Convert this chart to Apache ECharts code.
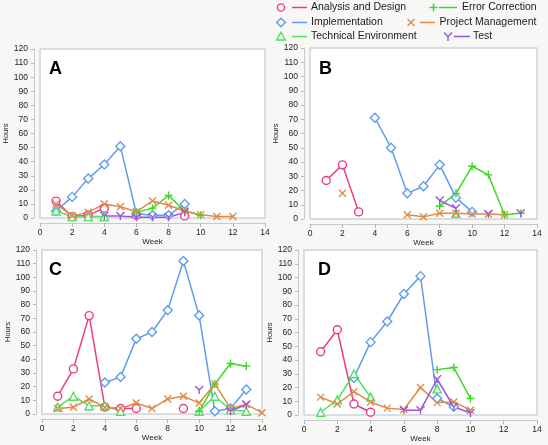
<!DOCTYPE html>
<html><head><meta charset="utf-8">
<script src="https://cdn.jsdelivr.net/npm/echarts@6/dist/echarts.min.js"></script>
<style>html,body{margin:0;padding:0;background:#f7f8f6}#c{width:548px;height:445px}</style>
</head><body><div id="c"></div><script>
const weeks = [1,2,3,4,5,6,7,8,9,10,11,12,13,14];
const seriesNames = ['Analysis and Design','Implementation','Technical Environment','Error Correction','Project Management','Test'];
const panelLetters = ['A','B','C','D'];
const xTickValues = [0,2,4,6,8,10,12,14];
const yTickValues = [0,10,20,30,40,50,60,70,80,90,100,110,120];

// Panel A (hours per week 1..14)
const A_analysis = [12,1,2,7,null,2,null,null,1.5,null,null,null,null,null];
const A_impl     = [5,15,28,38,51,3,2,2,10,null,null,null,null,null];
const A_tech     = [5,1,1,1,null,null,null,null,null,null,null,null,null,null];
const A_error    = [null,null,null,null,null,4,7,16,5,2,null,null,null,null];
const A_pm       = [10,1.5,4,10,8,4.5,12,9,5,2.4,1,1,null,null];
const A_test     = [null,null,null,1.5,1.5,0.5,0.5,0.5,4,null,null,null,null,null];
// Panel B
const B_analysis = [27,38,5,null,null,null,null,null,null,null,null,null,null,null];
const B_impl     = [null,null,null,71,50,18,23,38,15,5,null,null,null,null];
const B_tech     = [null,null,null,null,null,null,null,null,4,null,null,null,null,null];
const B_error    = [null,null,null,null,null,null,null,9,18,37,31,3,4,null];
const B_pm       = [null,18,null,null,null,3,1.5,4,4,3.5,3.5,3,null,null];
const B_test     = [null,null,null,null,null,null,null,13,7.5,null,3.5,null,4,null];
// Panel C
const C_analysis = [13,33,72,5,4,4,null,null,4,null,null,null,null,null];
const C_impl     = [null,null,null,23,27,55,60,76,112,72,2,4,18,null];
const C_tech     = [5,13,6,6,2,null,null,null,null,2,13,3,2,null];
const C_error    = [null,null,null,null,null,null,null,null,null,2,22,37,35,null];
const C_pm       = [4,5,11,5,4,8,4,11,13,8,22,4,7,1];
const C_test     = [null,null,null,null,null,null,null,null,null,17.5,null,2,7,null];
// Panel D
const D_analysis = [46,62,8,2,null,null,null,null,null,null,null,null,null,null];
const D_impl     = [null,null,27,53,68,88,101,12,6,null,null,null,null,null];
const D_tech     = [2,11,30,13,null,null,null,19,null,null,null,null,null,null];
const D_error    = [null,null,null,null,null,null,null,33,34.5,12,null,null,null,null];
const D_pm       = [13,8,17,9.5,5,4,20,9,9.5,3.5,null,null,null,null];
const D_test     = [null,null,null,null,null,3.5,3.5,26,6,1.5,null,null,null,null];

const panels = [
  [A_analysis,A_impl,A_tech,A_error,A_pm,A_test],
  [B_analysis,B_impl,B_tech,B_error,B_pm,B_test],
  [C_analysis,C_impl,C_tech,C_error,C_pm,C_test],
  [D_analysis,D_impl,D_tech,D_error,D_pm,D_test]
];

const colors = ['#ec3b84','#5f9cf0','#4fe060','#3ed824','#e08a45','#9a55e0'];
const symbols = [
  'path://M0,5A5,5,0,1,1,10,5A5,5,0,1,1,0,5Z',
  'path://M5,0L10,5L5,10L0,5Z',
  'path://M5,0L10,9L0,9Z',
  'path://M5,0L5,10M0,5L10,5',
  'path://M0,0L10,10M10,0L0,10',
  'path://M0,0L5,5M10,0L5,5M5,5L5,10'];
const hollow = [true,true,true,false,false,false];
const symSizes = [8,9,8,8,7,8];

const grids = [
  {left:40, top:49, width:225, height:169},
  {left:310, top:48, width:227, height:171},
  {left:42, top:250, width:220, height:164},
  {left:304, top:250, width:233, height:165}
];
const FONT = 'Liberation Sans, Arial, sans-serif';

const option = {
  animation:false,
  backgroundColor:'#f7f8f6',
  grid: grids.map(g => Object.assign({show:true, backgroundColor:'#ffffff', borderColor:'#cfd4d8', borderWidth:1.5}, g)),
  xAxis: grids.map((g,i) => ({
    gridIndex:i, type:'value', min:0, max:14, interval:2, offset:5,
    name:'Week', nameLocation:'middle', nameGap:15,
    nameTextStyle:{fontSize:8, color:'#222', fontFamily:FONT},
    axisLine:{show:true, onZero:false, lineStyle:{color:'#c6cacf', width:1}},
    axisTick:{show:true, length:4, lineStyle:{color:'#b5b9bd'}},
    splitLine:{show:false},
    axisLabel:{fontSize:8.5, color:'#222', margin:5, fontFamily:FONT}
  })),
  yAxis: grids.map((g,i) => ({
    gridIndex:i, type:'value', min:0, max:120, interval:10, offset:6,
    name:'Hours', nameLocation:'middle', nameGap:24,
    nameTextStyle:{fontSize:7.5, color:'#222', fontFamily:FONT},
    axisLine:{show:true, onZero:false, lineStyle:{color:'#c6cacf', width:1}},
    axisTick:{show:true, length:3, lineStyle:{color:'#b5b9bd'}},
    splitLine:{show:false},
    axisLabel:{fontSize:8.5, color:'#222', margin:6, fontFamily:FONT}
  })),
  series: [],
  graphic: []
};

panels.forEach((arrs, p) => {
  arrs.forEach((arr, k) => {
    option.series.push({
      name: seriesNames[k], type:'line', xAxisIndex:p, yAxisIndex:p,
      data: weeks.map((w,i) => arr[i] == null ? [w,'-'] : [w, arr[i]]),
      symbol: symbols[k], symbolSize: symSizes[k], showSymbol:true, showAllSymbol:true,
      connectNulls:false,
      lineStyle:{color:colors[k], width:1.5},
      itemStyle:{color: hollow[k] ? '#ffffff' : colors[k], borderColor:colors[k], borderWidth:1.4},
      emphasis:{disabled:true}, z: 3
    });
  });
});

// panel letters
const letterPos = [[49,60],[319,60],[49,261],[318,261]];
panelLetters.forEach((t,i) => {
  option.graphic.push({type:'text', left:letterPos[i][0], top:letterPos[i][1], z:10,
    style:{text:t, font:'bold 18px '+FONT, fill:'#000'}});
});

// legend drawn manually: symbol, line, text
function legendSymbol(k, cx, cy) {
  const c = colors[k];
  const st = {stroke:c, fill:'none', lineWidth:1.4};
  if (k === 0) return {type:'circle', shape:{cx:cx, cy:cy, r:3.6}, style:st};
  if (k === 1) return {type:'polygon', shape:{points:[[cx,cy-4.3],[cx+4.3,cy],[cx,cy+4.3],[cx-4.3,cy]]}, style:st};
  if (k === 2) return {type:'polygon', shape:{points:[[cx,cy-4.3],[cx+4.3,cy+3.5],[cx-4.3,cy+3.5]]}, style:st};
  if (k === 3) return {type:'group', children:[
    {type:'line', shape:{x1:cx,y1:cy-4,x2:cx,y2:cy+4}, style:st},
    {type:'line', shape:{x1:cx-4,y1:cy,x2:cx+4,y2:cy}, style:st}]};
  if (k === 4) return {type:'group', children:[
    {type:'line', shape:{x1:cx-3.5,y1:cy-3.5,x2:cx+3.5,y2:cy+3.5}, style:st},
    {type:'line', shape:{x1:cx+3.5,y1:cy-3.5,x2:cx-3.5,y2:cy+3.5}, style:st}]};
  return {type:'group', children:[
    {type:'polyline', shape:{points:[[cx-4,cy-4],[cx,cy],[cx+4,cy-4]]}, style:st},
    {type:'line', shape:{x1:cx,y1:cy,x2:cx,y2:cy+4.5}, style:st}]};
}
const legendItems = [
  // [seriesIndex, symbolX, lineX1, lineX2, textX, y]
  [0, 281, 292, 307, 311, 7.5],
  [3, 433.5, 439, 457, 462, 7.5],
  [1, 281, 292, 307, 311, 22.5],
  [4, 411, 420, 435, 439.5, 22.5],
  [2, 281, 292, 307, 311, 36.5],
  [5, 448, 454, 470, 473, 36.5]
];
legendItems.forEach(it => {
  const [k, sx, l1, l2, tx, y] = it;
  option.graphic.push(legendSymbol(k, sx, y));
  option.graphic.push({type:'line', shape:{x1:l1,y1:y,x2:l2,y2:y}, style:{stroke:colors[k], lineWidth:1.5}});
  option.graphic.push({type:'text', x:tx, y:y, style:{text:seriesNames[k], font:'10.5px '+FONT, fill:'#1a1a1a', textVerticalAlign:'middle', verticalAlign:'middle'}});
});

const chart = echarts.init(document.getElementById('c'), null, {renderer:'canvas'});
chart.setOption(option);
</script></body></html>
